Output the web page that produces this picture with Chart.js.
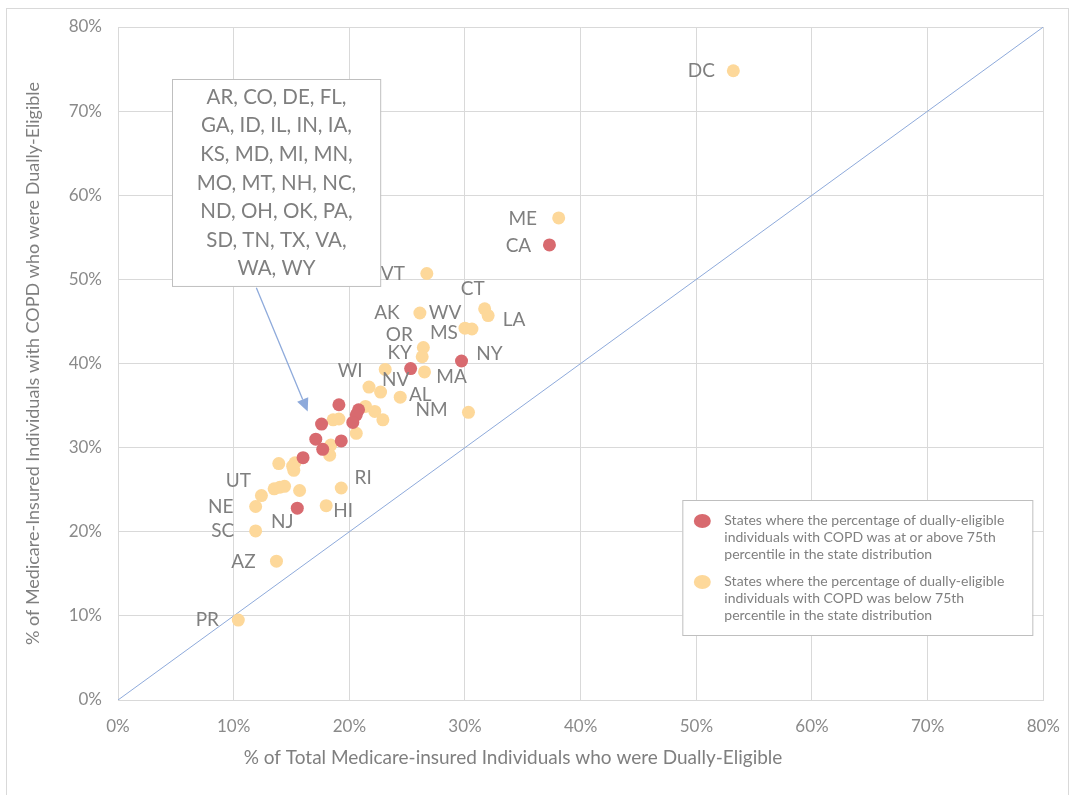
<!DOCTYPE html>
<html>
<head>
<meta charset="utf-8">
<script src="https://cdn.jsdelivr.net/npm/chart.js@4.4.1/dist/chart.umd.min.js"></script>
<style>
  body { margin: 0; background: #fff; }
</style>
</head>
<body>
<canvas id="chart" width="1076" height="795"></canvas>
<script>
// states at or above the 75th percentile (red)
const highStates = ['CA', 'NY', 'KY', 'NJ', '', '', '', '', '', '', '', '', ''];
const highX = [37.3, 29.7, 25.3, 15.5, 19.1, 20.8, 20.6, 20.3, 17.6, 17.1, 17.7, 19.3, 16.0];
const highY = [54.1, 40.3, 39.4, 22.8, 35.1, 34.5, 33.9, 33.0, 32.8, 31.0, 29.8, 30.8, 28.8];

// states below the 75th percentile (yellow)
const lowStates = ['DC', 'ME', 'VT', 'CT', 'LA', 'AK', 'WV', 'MS', 'OR', '', 'MA', 'WI', 'NV', '', 'AL', 'NM',
  'RI', 'HI', 'UT', 'NE', 'SC', 'AZ', 'PR',
  '', '', '', '', '', '', '', '', '', '', '', '', '', '', '', ''];
const lowX = [53.2, 38.1, 26.7, 31.7, 32.0, 26.1, 30.0, 30.6, 26.4, 26.3, 26.5, 23.1, 22.7, 21.7, 24.4, 30.3,
  19.3, 18.0, 12.4, 11.9, 11.9, 13.7, 10.4,
  18.6, 19.1, 18.4, 18.3, 20.6, 21.4, 22.2, 22.9, 13.9, 15.3, 15.2, 15.1, 13.5, 14.0, 14.4, 15.7];
const lowY = [74.8, 57.3, 50.7, 46.5, 45.7, 46.0, 44.2, 44.1, 41.9, 40.8, 39.0, 39.3, 36.6, 37.2, 36.0, 34.2,
  25.2, 23.1, 24.3, 23.0, 20.1, 16.5, 9.5,
  33.3, 33.4, 30.3, 29.1, 31.7, 34.9, 34.3, 33.3, 28.1, 28.2, 27.3, 27.8, 25.1, 25.3, 25.4, 24.9];

// equality line
const diagX = [0, 80];
const diagY = [0, 80];

const tickValues = [0, 10, 20, 30, 40, 50, 60, 70, 80];

const xTitle = '% of Total Medicare-insured Individuals who were Dually-Eligible';
const yTitle = '% of Medicare-Insured Individuals with COPD who were Dually-Eligible';

const boxLines = ['AR, CO, DE, FL,', 'GA, ID, IL, IN, IA,', 'KS, MD, MI, MN,', 'MO, MT, NH, NC,',
  'ND, OH, OK, PA,', 'SD, TN, TX, VA,', 'WA, WY'];

const legendLines = [
  ['States where the percentage of dually-eligible', 'individuals with COPD was at or above 75th', 'percentile in the state distribution'],
  ['States where the percentage of dually-eligible', 'individuals with COPD was below 75th', 'percentile in the state distribution']
];

const RED = '#d86a6f';
const YELLOW = '#fdd89a';
const GRAY_TEXT = '#7f7f7f';
const BLUE = '#8eaadb';

const toPoints = (xs, ys) => xs.map((x, i) => ({ x: x, y: ys[i] }));

// label offsets in pixels from the marker centre
const labelOffset = {
  DC: [-32, 0], ME: [-36, 1], CA: [-31, 1], VT: [-34, 0], CT: [-12, -20], LA: [26, 4],
  AK: [-33, 0], WV: [-20, -15], MS: [-28, 4], OR: [-24, -13], KY: [-11, -16], NY: [28, -7],
  MA: [27, 5], WI: [-35, 1], NV: [15, -12], AL: [20, -2], NM: [-37, -2], RI: [22, -10],
  HI: [17, 5], NJ: [-15, 14], UT: [-23, -15], NE: [-35, 0], SC: [-33, 0], AZ: [-33, 1], PR: [-31, 0]
};

const framePlugin = {
  id: 'frame',
  beforeDraw(chart) {
    const ctx = chart.ctx;
    ctx.save();
    ctx.strokeStyle = '#d9d9d9';
    ctx.lineWidth = 1;
    ctx.strokeRect(6.5, 8.5, 1062, 800);
    ctx.restore();
  },
  afterDraw(chart) {
    // x axis title sits left of the plot centre in the original
    const ctx = chart.ctx;
    ctx.save();
    ctx.font = '19px Lato';
    ctx.fillStyle = GRAY_TEXT;
    ctx.textAlign = 'center';
    ctx.textBaseline = 'middle';
    ctx.fillText(xTitle, 513, 758);
    ctx.restore();
  }
};

const labelPlugin = {
  id: 'stateLabels',
  afterDatasetsDraw(chart) {
    const ctx = chart.ctx;
    ctx.save();
    ctx.font = '19px Lato';
    ctx.fillStyle = GRAY_TEXT;
    ctx.textAlign = 'center';
    ctx.textBaseline = 'middle';
    [[0, highStates], [1, lowStates]].forEach(([di, names]) => {
      const meta = chart.getDatasetMeta(di);
      names.forEach((name, i) => {
        if (!name) return;
        const off = labelOffset[name] || [0, -16];
        const pt = meta.data[i];
        ctx.fillText(name, pt.x + off[0], pt.y + off[1]);
      });
    });
    ctx.restore();
  }
};

const calloutPlugin = {
  id: 'callout',
  afterDraw(chart) {
    const ctx = chart.ctx;
    const xs = chart.scales.x, ys = chart.scales.y;
    const left = xs.getPixelForValue(4.7), right = xs.getPixelForValue(22.7);
    const top = ys.getPixelForValue(73.8), bottom = ys.getPixelForValue(49.2);
    ctx.save();
    ctx.fillStyle = '#fff';
    ctx.fillRect(left, top, right - left, bottom - top);
    ctx.strokeStyle = '#bfbfbf';
    ctx.lineWidth = 1;
    ctx.strokeRect(Math.round(left) + 0.5, Math.round(top) + 0.5, right - left, bottom - top);
    ctx.font = '20.5px Lato';
    ctx.fillStyle = GRAY_TEXT;
    ctx.textAlign = 'center';
    ctx.textBaseline = 'middle';
    const cx = (left + right) / 2;
    boxLines.forEach((line, i) => ctx.fillText(line, cx, top + 18 + i * 28.6));

    // arrow pointing to the cluster
    const x0 = xs.getPixelForValue(11.96), y0 = ys.getPixelForValue(49.0);
    const x1 = xs.getPixelForValue(16.4), y1 = ys.getPixelForValue(34.3);
    const ang = Math.atan2(y1 - y0, x1 - x0);
    const headLen = 13, headW = 6;
    const bx = x1 - headLen * Math.cos(ang), by = y1 - headLen * Math.sin(ang);
    ctx.strokeStyle = BLUE;
    ctx.fillStyle = BLUE;
    ctx.lineWidth = 1.3;
    ctx.beginPath();
    ctx.moveTo(x0, y0);
    ctx.lineTo(bx, by);
    ctx.stroke();
    ctx.beginPath();
    ctx.moveTo(x1, y1);
    ctx.lineTo(bx + headW * Math.sin(ang), by - headW * Math.cos(ang));
    ctx.lineTo(bx - headW * Math.sin(ang), by + headW * Math.cos(ang));
    ctx.closePath();
    ctx.fill();
    ctx.restore();
  }
};

const legendPlugin = {
  id: 'boxLegend',
  afterDraw(chart) {
    const ctx = chart.ctx;
    const area = chart.chartArea;
    const right = area.right - 11, bottom = area.bottom - 65;
    const left = right - 350, top = bottom - 135;
    ctx.save();
    ctx.fillStyle = '#fff';
    ctx.fillRect(left, top, right - left, bottom - top);
    ctx.strokeStyle = '#bfbfbf';
    ctx.lineWidth = 1;
    ctx.strokeRect(left + 0.5, top + 0.5, right - left, bottom - top);
    const colors = [RED, YELLOW];
    ctx.font = '14px Lato';
    ctx.textBaseline = 'middle';
    ctx.textAlign = 'left';
    legendLines.forEach((lines, k) => {
      const y = top + 20 + k * 61;
      ctx.fillStyle = colors[k];
      ctx.beginPath();
      ctx.ellipse(left + 20, y + 1, 8.5, 7, 0, 0, Math.PI * 2);
      ctx.fill();
      ctx.fillStyle = GRAY_TEXT;
      lines.forEach((line, j) => ctx.fillText(line, left + 42, y + j * 17));
    });
    ctx.restore();
  }
};

const axisCommon = {
  type: 'linear',
  min: 0,
  max: 80,
  afterBuildTicks: s => { s.ticks = tickValues.map(v => ({ value: v })); },
  grid: { color: '#d9d9d9', lineWidth: 1, drawTicks: false },
  border: { color: '#d9d9d9' }
};

new Chart(document.getElementById('chart').getContext('2d'), {
  data: {
    datasets: [
      {
        type: 'scatter',
        label: 'at or above 75th percentile',
        data: toPoints(highX, highY),
        backgroundColor: RED,
        borderWidth: 0,
        pointRadius: 6.5,
        order: 1
      },
      {
        type: 'scatter',
        label: 'below 75th percentile',
        data: toPoints(lowX, lowY),
        backgroundColor: YELLOW,
        borderWidth: 0,
        pointRadius: 6.5,
        order: 2
      },
      {
        type: 'line',
        label: 'equality',
        data: toPoints(diagX, diagY),
        borderColor: BLUE,
        borderWidth: 1,
        pointRadius: 0,
        fill: false,
        order: 3
      }
    ]
  },
  options: {
    responsive: false,
    animation: false,
    layout: { padding: { left: 0, right: 30, top: 27, bottom: 0 } },
    plugins: {
      legend: { display: false },
      tooltip: { enabled: false }
    },
    scales: {
      x: Object.assign({}, axisCommon, {
        position: 'bottom',
        afterFit: s => { s.height = 95; },
        ticks: { padding: 16, color: '#8a8a8a', font: { family: 'Lato', size: 17 }, callback: v => v + '%' },
        title: { display: false }
      }),
      y: Object.assign({}, axisCommon, {
        position: 'left',
        afterFit: s => { s.width = 118; },
        ticks: { padding: 16, color: '#8a8a8a', font: { family: 'Lato', size: 17 }, callback: v => v + '%' },
        title: {
          display: true,
          text: yTitle,
          color: GRAY_TEXT,
          font: { family: 'Lato', size: 18 },
          padding: { top: 22, bottom: 0 }
        }
      })
    }
  },
  plugins: [framePlugin, labelPlugin, calloutPlugin, legendPlugin]
});
</script>
</body>
</html>
